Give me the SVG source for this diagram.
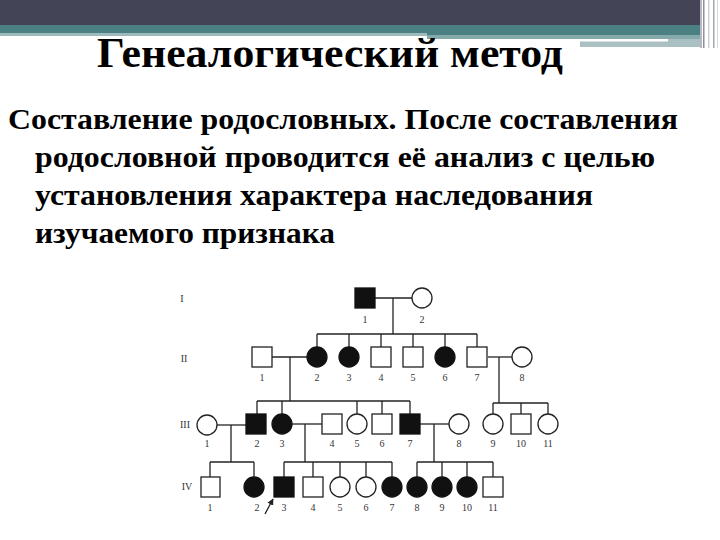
<svg xmlns="http://www.w3.org/2000/svg" width="720" height="540" viewBox="0 0 720 540">
<defs>
<style>
.title{font-family:"Liberation Serif","Times New Roman",serif;font-weight:bold;font-size:42px;fill:#000}
.body{font-family:"Liberation Serif","Times New Roman",serif;font-weight:bold;font-size:30px;fill:#000}
.lab{font-family:"Liberation Serif","Times New Roman",serif;font-size:10px;fill:#333;text-anchor:middle}
.gen{font-family:"Liberation Serif","Times New Roman",serif;font-size:10px;fill:#333;text-anchor:middle}
.o{fill:#fff;stroke:#222;stroke-width:1.3}
.f{fill:#111;stroke:#111;stroke-width:1.3}
.ln{stroke:#222;stroke-width:1.3;fill:none}
</style>
<marker id="arr" viewBox="0 0 10 10" refX="9" refY="5" markerWidth="5" markerHeight="5" orient="auto"><path d="M0,0 L10,5 L0,10 z" fill="#222"/></marker>
</defs>
<rect width="720" height="540" fill="#fff"/>
<g id="header">
<rect x="0" y="0" width="700" height="25" fill="#444457"/>
<rect x="0" y="25" width="427" height="8" fill="#4b8083"/>
<rect x="0" y="33" width="427" height="3" fill="#9dbabc"/>
<rect x="427" y="25" width="273" height="10" fill="#4b8083"/>
<rect x="427" y="35" width="273" height="4" fill="#86a9ab"/>
<rect x="580" y="41" width="120" height="6" fill="#aac0c3"/>
<rect x="427" y="39" width="241" height="2.5" fill="#fff"/>
<rect x="668" y="39" width="32" height="8" fill="#aac0c3"/>
<rect x="700" y="0" width="2" height="48" fill="#b8b8c4"/>
<rect x="703" y="0" width="1.5" height="48" fill="#8e8e9c"/>
<rect x="708" y="0" width="1.5" height="48" fill="#c9d3d4"/>
<rect x="713" y="0" width="1.5" height="48" fill="#a6a6b2"/>
<rect x="717" y="0" width="1" height="48" fill="#d6dcdd"/>
</g>
<g id="title"><text class="title" x="97" y="67" textLength="466" lengthAdjust="spacingAndGlyphs">Генеалогический метод</text></g>
<g id="body">
<text class="body" x="8" y="129" textLength="670" lengthAdjust="spacingAndGlyphs">Составление родословных. После составления</text>
<text class="body" x="35" y="167" textLength="620" lengthAdjust="spacingAndGlyphs">родословной проводится её анализ с целью</text>
<text class="body" x="35" y="205" textLength="558" lengthAdjust="spacingAndGlyphs">установления характера наследования</text>
<text class="body" x="35" y="243" textLength="300" lengthAdjust="spacingAndGlyphs">изучаемого признака</text>
</g>
<g id="connectors">
<!-- I -->
<line class="ln" x1="375" y1="298" x2="412" y2="298"/>
<line class="ln" x1="393" y1="298" x2="393" y2="334"/>
<line class="ln" x1="317" y1="334" x2="477" y2="334"/>
<line class="ln" x1="317" y1="334" x2="317" y2="347"/>
<line class="ln" x1="349" y1="334" x2="349" y2="347"/>
<line class="ln" x1="381" y1="334" x2="381" y2="347"/>
<line class="ln" x1="413" y1="334" x2="413" y2="347"/>
<line class="ln" x1="445" y1="334" x2="445" y2="347"/>
<line class="ln" x1="477" y1="334" x2="477" y2="347"/>
<!-- II marriages -->
<line class="ln" x1="272" y1="357" x2="307" y2="357"/>
<line class="ln" x1="290" y1="357" x2="290" y2="401"/>
<line class="ln" x1="257" y1="401" x2="410" y2="401"/>
<line class="ln" x1="257" y1="401" x2="257" y2="414"/>
<line class="ln" x1="282" y1="401" x2="282" y2="414"/>
<line class="ln" x1="357" y1="401" x2="357" y2="414"/>
<line class="ln" x1="382" y1="401" x2="382" y2="414"/>
<line class="ln" x1="410" y1="401" x2="410" y2="414"/>
<line class="ln" x1="488" y1="357" x2="512" y2="357"/>
<line class="ln" x1="499" y1="357" x2="499" y2="403"/>
<line class="ln" x1="493" y1="403" x2="548" y2="403"/>
<line class="ln" x1="493" y1="403" x2="493" y2="414"/>
<line class="ln" x1="521" y1="403" x2="521" y2="414"/>
<line class="ln" x1="548" y1="403" x2="548" y2="414"/>
<!-- III marriages -->
<line class="ln" x1="217" y1="425" x2="246" y2="425"/>
<line class="ln" x1="231" y1="425" x2="231" y2="462"/>
<line class="ln" x1="210" y1="462" x2="254" y2="462"/>
<line class="ln" x1="210" y1="462" x2="210" y2="477"/>
<line class="ln" x1="254" y1="462" x2="254" y2="477"/>
<line class="ln" x1="292" y1="424" x2="322" y2="424"/>
<line class="ln" x1="305" y1="424" x2="305" y2="462"/>
<line class="ln" x1="284" y1="462" x2="392" y2="462"/>
<line class="ln" x1="284" y1="462" x2="284" y2="477"/>
<line class="ln" x1="313" y1="462" x2="313" y2="477"/>
<line class="ln" x1="340" y1="462" x2="340" y2="477"/>
<line class="ln" x1="366" y1="462" x2="366" y2="477"/>
<line class="ln" x1="392" y1="462" x2="392" y2="477"/>
<line class="ln" x1="420" y1="424" x2="449" y2="424"/>
<line class="ln" x1="434" y1="424" x2="434" y2="462"/>
<line class="ln" x1="417" y1="462" x2="493" y2="462"/>
<line class="ln" x1="417" y1="462" x2="417" y2="477"/>
<line class="ln" x1="442" y1="462" x2="442" y2="477"/>
<line class="ln" x1="467" y1="462" x2="467" y2="477"/>
<line class="ln" x1="493" y1="462" x2="493" y2="477"/>
<line class="ln" x1="265" y1="514" x2="273" y2="499" marker-end="url(#arr)"/>
</g>
<g id="gen-labels">
<text class="gen" x="182" y="302">I</text>
<text class="gen" x="184" y="362">II</text>
<text class="gen" x="185" y="428">III</text>
<text class="gen" x="187" y="490">IV</text>
</g>
<g id="gen1">
<g id="I-1"><rect class="f" x="355" y="288" width="20" height="20"/><text class="lab" x="365" y="323">1</text></g>
<g id="I-2"><circle class="o" cx="422" cy="298" r="10"/><text class="lab" x="422" y="323">2</text></g>
</g>
<g id="gen2">
<g id="II-1"><rect class="o" x="252" y="347" width="20" height="20"/><text class="lab" x="262" y="381">1</text></g>
<g id="II-2"><circle class="f" cx="317" cy="357" r="10"/><text class="lab" x="317" y="381">2</text></g>
<g id="II-3"><circle class="f" cx="349" cy="357" r="10"/><text class="lab" x="349" y="381">3</text></g>
<g id="II-4"><rect class="o" x="371" y="347" width="20" height="20"/><text class="lab" x="381" y="381">4</text></g>
<g id="II-5"><rect class="o" x="403" y="347" width="20" height="20"/><text class="lab" x="413" y="381">5</text></g>
<g id="II-6"><circle class="f" cx="445" cy="357" r="10"/><text class="lab" x="445" y="381">6</text></g>
<g id="II-7"><rect class="o" x="467" y="347" width="20" height="20"/><text class="lab" x="477" y="381">7</text></g>
<g id="II-8"><circle class="o" cx="522" cy="357" r="10"/><text class="lab" x="522" y="381">8</text></g>
</g>
<g id="gen3">
<g id="III-1"><circle class="o" cx="207" cy="425" r="10"/><text class="lab" x="207" y="447">1</text></g>
<g id="III-2"><rect class="f" x="246" y="414" width="20" height="20"/><text class="lab" x="257" y="447">2</text></g>
<g id="III-3"><circle class="f" cx="282" cy="424" r="10"/><text class="lab" x="282" y="447">3</text></g>
<g id="III-4"><rect class="o" x="322" y="414" width="20" height="20"/><text class="lab" x="332" y="447">4</text></g>
<g id="III-5"><circle class="o" cx="357" cy="424" r="10"/><text class="lab" x="357" y="447">5</text></g>
<g id="III-6"><rect class="o" x="372" y="414" width="20" height="20"/><text class="lab" x="382" y="447">6</text></g>
<g id="III-7"><rect class="f" x="400" y="414" width="20" height="20"/><text class="lab" x="410" y="447">7</text></g>
<g id="III-8"><circle class="o" cx="459" cy="424" r="10"/><text class="lab" x="459" y="447">8</text></g>
<g id="III-9"><circle class="o" cx="493" cy="424" r="10"/><text class="lab" x="493" y="447">9</text></g>
<g id="III-10"><rect class="o" x="511" y="414" width="20" height="20"/><text class="lab" x="521" y="447">10</text></g>
<g id="III-11"><circle class="o" cx="548" cy="424" r="10"/><text class="lab" x="548" y="447">11</text></g>
</g>
<g id="gen4">
<g id="IV-1"><rect class="o" x="201" y="477" width="19" height="20"/><text class="lab" x="210" y="511">1</text></g>
<g id="IV-2"><circle class="f" cx="254" cy="487" r="10"/><text class="lab" x="257" y="511">2</text></g>
<g id="IV-3"><rect class="f" x="274" y="477" width="20" height="20"/><text class="lab" x="284" y="511">3</text></g>
<g id="IV-4"><rect class="o" x="303" y="477" width="20" height="20"/><text class="lab" x="313" y="511">4</text></g>
<g id="IV-5"><circle class="o" cx="340" cy="487" r="10"/><text class="lab" x="340" y="511">5</text></g>
<g id="IV-6"><circle class="o" cx="366" cy="487" r="10"/><text class="lab" x="366" y="511">6</text></g>
<g id="IV-7"><circle class="f" cx="392" cy="487" r="10"/><text class="lab" x="392" y="511">7</text></g>
<g id="IV-8"><circle class="f" cx="417" cy="487" r="10"/><text class="lab" x="417" y="511">8</text></g>
<g id="IV-9"><circle class="f" cx="442" cy="487" r="10"/><text class="lab" x="442" y="511">9</text></g>
<g id="IV-10"><circle class="f" cx="467" cy="487" r="10"/><text class="lab" x="467" y="511">10</text></g>
<g id="IV-11"><rect class="o" x="483" y="477" width="20" height="20"/><text class="lab" x="493" y="511">11</text></g>
</g>
</svg>
